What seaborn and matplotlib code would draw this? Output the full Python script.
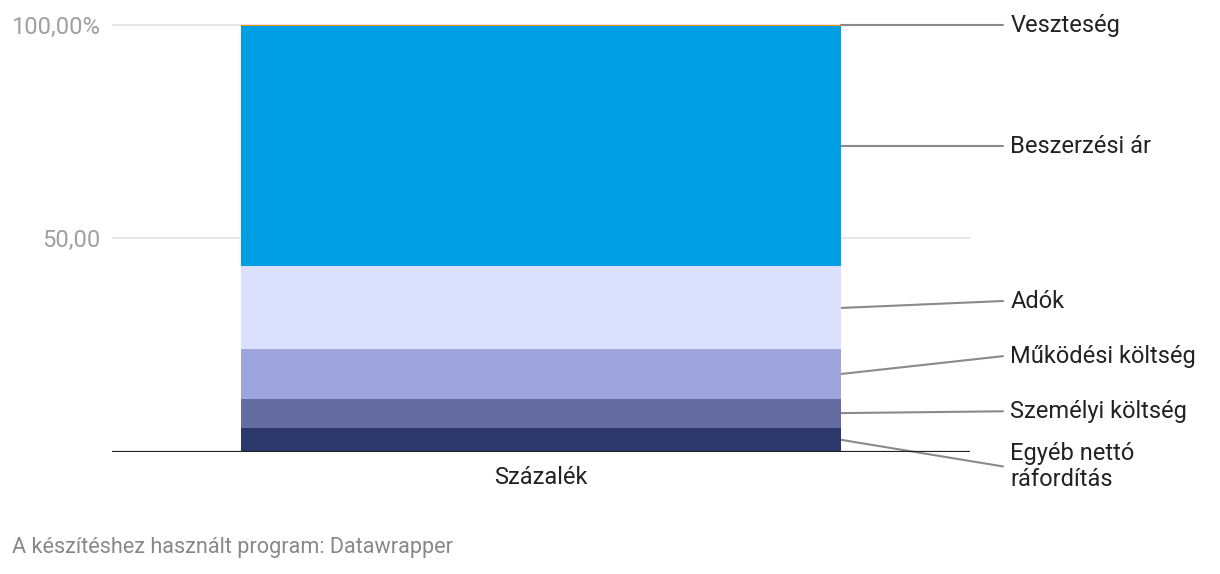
import numpy as np
import pandas as pd
import seaborn as sns
import matplotlib.pyplot as plt

# data (bottom to top)
segments = ["Egyéb nettó\nráfordítás", "Személyi költség", "Működési költség",
            "Adók", "Beszerzési ár", "Veszteség"]
values = [5.7, 6.8, 11.5, 19.4, 56.2, 0.4]
colors = ["#2c3869", "#646ca0", "#9ea4dc", "#dae0fe", "#009fe3", "#f28c00"]
category = "Százalék"
yticks = [50, 100]
ytick_labels = ["50,00", "100,00%"]
footer = "A készítéshez használt program: Datawrapper"

sns.set_style("white")
plt.rcParams["font.family"] = ["Roboto", "DejaVu Sans"]

df = pd.DataFrame({"segment": segments, "value": values, "color": colors})
df["top"] = df["value"].cumsum()
df["mid"] = df["top"] - df["value"] / 2
df["cat"] = category

fig = plt.figure(figsize=(12.2, 5.74), dpi=100)
ax = fig.add_axes([112 / 1220, 122.0 / 574, 858 / 1220, 431.7 / 574])
ax.set_axisbelow(True)

# gridlines first, under the bar
for t in yticks:
    ax.axhline(t, color="#e3e3e3", lw=1.3, zorder=0)

# stacked bar: draw cumulative totals from the top down
for i in reversed(range(len(df))):
    sns.barplot(data=df.iloc[[i]], x="cat", y="top", color=df["color"][i],
                width=1.0, saturation=1, linewidth=0, ax=ax)
for p in ax.patches:
    p.set_zorder(3)

ax.set_xlim(-0.715, 0.715)
ax.set_ylim(0, 101)
sns.despine(ax=ax, left=True, bottom=True)
ax.set_xlabel("")
ax.set_ylabel("")

ax.axhline(0, color="#222222", lw=1.6, zorder=4)

ax.set_yticks(yticks)
ax.set_yticklabels(ytick_labels)
ax.tick_params(axis="y", length=0, pad=8.5, labelsize=17, labelcolor="#a0a0a0")
ax.tick_params(axis="x", length=0, pad=10, labelsize=17, labelcolor="#222222")

# spread labels apart (cluster centring)
gap = 12.9
groups = [[m] for m in df["mid"]]
idx = [[k] for k in range(len(df))]
changed = True
while changed:
    changed = False
    pos = []
    for g in groups:
        c = np.mean(g)
        n = len(g)
        pos.append([c + (j - (n - 1) / 2) * gap for j in range(n)])
    for k in range(len(groups) - 1):
        if pos[k + 1][0] - pos[k][-1] < gap - 1e-9:
            groups[k] = groups[k] + groups[k + 1]
            idx[k] = idx[k] + idx[k + 1]
            del groups[k + 1], idx[k + 1]
            changed = True
            break
label_y = np.zeros(len(df))
for g, ids in zip(groups, idx):
    c = np.mean(g)
    for j, k in enumerate(ids):
        label_y[k] = c + (j - (len(ids) - 1) / 2) * gap

for k in range(len(df)):
    ax.plot([0.5, 0.77], [df["mid"][k], label_y[k]], color="#8a8a8a", lw=1.5,
            clip_on=False, zorder=2)
    ax.text(0.782, label_y[k], df["segment"][k], ha="left", va="center",
            fontsize=17, color="#222222", linespacing=1.12, clip_on=False)

fig.text(12 / 1220, 1 - 548 / 574, footer, ha="left", va="center",
         fontsize=15.6, color="#888888")

fig.savefig("out.png", dpi=100)
